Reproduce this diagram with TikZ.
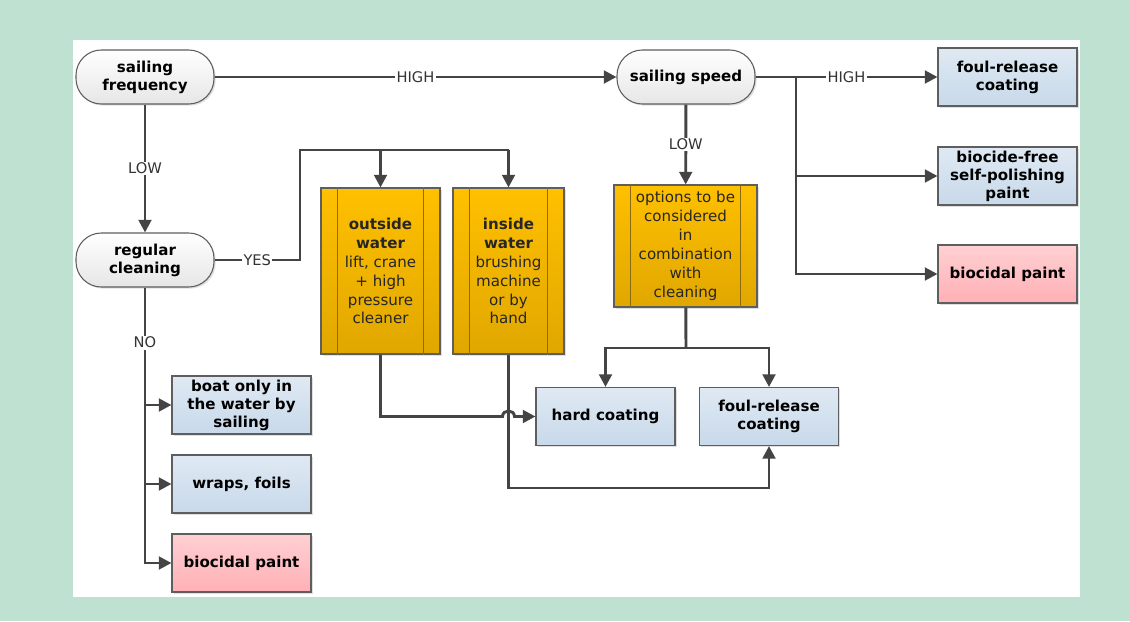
\documentclass[tikz,border=0pt]{standalone}
\usepackage{fontspec}
\setmainfont{DejaVu Sans}
\usetikzlibrary{arrows.meta,shadows}
\definecolor{bgc}{HTML}{BFE1D2}
\definecolor{lc}{HTML}{444444}
\definecolor{bd}{HTML}{5E5E5E}
\definecolor{blueT}{HTML}{DFE9F3}
\definecolor{blueB}{HTML}{C8D9EA}
\definecolor{pinkT}{HTML}{FFD0D3}
\definecolor{pinkB}{HTML}{FFB0B5}
\definecolor{oraT}{HTML}{FFC000}
\definecolor{oraB}{HTML}{E0A700}
\definecolor{oraL}{HTML}{8C6A12}
\definecolor{pillB}{HTML}{E6E6E6}
\begin{document}
\begin{tikzpicture}[x=0.75pt,y=-0.75pt,
  shad/.style={drop shadow={shadow xshift=1.2pt,shadow yshift=-1.2pt,opacity=0.25}},
  pill/.style={draw=bd, line width=0.8pt, rounded corners=19pt, top color=white, bottom color=pillB,
    minimum width=103.5pt, minimum height=40.5pt, align=center, shad,
    font=\bfseries\fontsize{11.3}{13.5}\selectfont},
  boxbase/.style={draw=bd, line width=0.8pt, minimum width=104.25pt, minimum height=43.5pt,
    align=center, shad, inner sep=1pt, font=\bfseries\fontsize{11.3}{13.5}\selectfont},
  bluebox/.style={boxbase, top color=blueT, bottom color=blueB},
  pinkbox/.style={boxbase, top color=pinkT, bottom color=pinkB},
  procbox/.style={draw=bd, line width=0.8pt, top color=oraT, bottom color=oraB, align=center, shad,
    inner sep=1pt, text=black!85, font=\fontsize{11.3}{14.2}\selectfont},
  inner/.style={draw=oraL, line width=0.6pt},
  conn/.style={draw=lc, line width=2.2pt},
  arr/.style={conn, -{Triangle[length=9.5pt,width=9.5pt]}},
  lab/.style={fill=white, inner sep=1pt, text=black!80, font=\fontsize{11}{12}\selectfont}]
\fill[bgc] (0,0) rectangle (1130,621);
\useasboundingbox (0,0) rectangle (1130,621);
\fill[white] (73,40) rectangle (1080,597);

% nodes
\node[pill] (sf) at (145,77) {sailing\\frequency};
\node[pill] (ss) at (686,77) {sailing speed};
\node[pill] (rc) at (145,260) {regular\\cleaning};
\node[bluebox] (fr1) at (1007.5,77) {foul-release\\coating};
\node[bluebox] (bf) at (1007.5,176) {biocide-free\\self-polishing\\paint};
\node[pinkbox] (bp1) at (1007.5,274) {biocidal paint};
\node[bluebox] (boat) at (241.5,405) {boat only in\\the water by\\sailing};
\node[bluebox] (wf) at (241.5,484) {wraps, foils};
\node[pinkbox] (bp2) at (241.5,563) {biocidal paint};
\node[bluebox] (hc) at (605.5,416.5) {hard coating};
\node[bluebox] (fr2) at (769,416.5) {foul-release\\coating};
\node[procbox, minimum width=89.25pt, minimum height=124.5pt] (ow) at (380.5,271)
  {\textbf{outside}\\\textbf{water}\\lift, crane\\+ high\\pressure\\cleaner};
\node[procbox, minimum width=83.25pt, minimum height=124.5pt] (iw) at (508.5,271)
  {\textbf{inside}\\\textbf{water}\\brushing\\machine\\or by\\hand};
\node[procbox, minimum width=107.25pt, minimum height=91.5pt] (opt) at (685.5,246)
  {options to be\\considered\\in\\combination\\with\\cleaning};
\foreach \n/\d in {ow/12.75pt,iw/12.75pt,opt/12.75pt}{
  \draw[inner] ([xshift=\d]\n.north west) -- ([xshift=\d]\n.south west);
  \draw[inner] ([xshift=-\d]\n.north east) -- ([xshift=-\d]\n.south east);
}

% coordinates
\coordinate (b1) at (796,77);
\coordinate (b2) at (686,348);
\coordinate (y1) at (300,260);
\coordinate (y2) at (300,150);
\coordinate (t1) at (380.5,150);
\coordinate (t2) at (508.5,150);
\coordinate (o1) at (380.5,416.5);
\coordinate (hopL) at (502.5,416.5);
\coordinate (hopR) at (514.5,416.5);
\coordinate (i1) at (508.5,488);
\coordinate (na) at (145,405);
\coordinate (nb) at (145,484);
\coordinate (nc) at (145,563);

% connectors
\draw[arr] (sf) -- node[lab]{HIGH} (ss);
\draw[arr] (ss) -- node[lab]{HIGH} (fr1);
\draw[arr] (b1) |- (bf);
\draw[arr] (b1) |- (bp1);
\draw[arr] (ss) -- node[lab]{LOW} (opt);
\draw[conn] (opt) -- (b2);
\draw[arr] (b2) -| (hc);
\draw[arr] (b2) -| (fr2);
\draw[arr] (sf) -- node[lab]{LOW} (rc);
\draw[conn, line join=miter] (rc) -- node[lab]{YES} (y1) -- (y2) -- (t2);
\draw[arr] (t1) -- (ow);
\draw[arr] (t2) -- (iw);
\draw[arr] (iw) -- (i1) -| (fr2);
\draw[arr] (ow) -- (o1) -- (hopL) .. controls ([yshift=5.5pt]hopL) and ([yshift=5.5pt]hopR) .. (hopR) -- (hc);
\draw[arr] (rc) -- node[lab, pos=0.2]{NO} (nc) -- (bp2);
\draw[arr] (na) -- (boat);
\draw[arr] (nb) -- (wf);
\end{tikzpicture}
\end{document}
